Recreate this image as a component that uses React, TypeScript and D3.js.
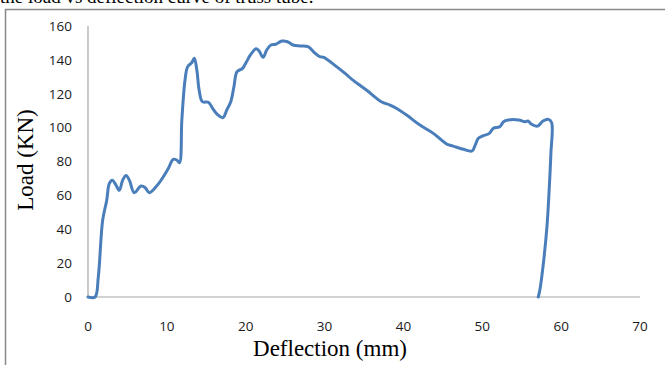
import React from "react";
import * as d3 from "d3";

const deflection = [0, 0.89, 1.31, 1.86, 2.37, 2.7, 3.08, 3.55, 3.97, 4.4, 4.82, 5.24, 5.87, 6.72, 7.23, 7.78, 8.7, 9.55, 10.2, 10.8, 11.25, 11.6, 11.9, 12.3, 12.64, 13.15, 13.48, 13.8, 14.1, 14.5, 15.26, 15.8, 16.4, 17.1, 17.6, 18.1, 18.5, 18.9, 19.6, 20.1, 20.6, 21.3, 21.7, 22.2, 22.66, 23.2, 23.8, 24.6, 25.3, 26.0, 26.9, 27.9, 28.8, 29.4, 29.9, 31.1, 32.6, 33.6, 35.3, 37.2, 38.3, 39.1, 40.4, 42.1, 43.8, 45.5, 46.3, 47.6, 48.7, 49.1, 49.5, 50.0, 50.9, 51.4, 52.2, 52.7, 53.3, 54.6, 55.4, 55.8, 56.2, 57.0, 57.7, 58.4, 58.8, 58.7, 58.5, 58.2, 57.7, 57.3, 57.1];
const load = [0, 0, 12, 45.4, 57, 67, 69, 66, 63, 69, 71.8, 69, 61.6, 65.5, 64.7, 61.6, 65.5, 71, 76, 81.3, 80.9, 79.3, 104.5, 128, 136, 138.3, 140.9, 134, 122, 115.3, 115, 111.4, 107.8, 105.9, 110.4, 115.3, 124, 133, 135, 138.9, 142.9, 146.6, 145.2, 141.5, 145.8, 148.8, 149.2, 151.1, 150.7, 148.8, 148.2, 147.8, 143.9, 141.9, 141.5, 137.5, 132, 128, 122.2, 115.3, 113.3, 111.4, 107.4, 101.5, 96.6, 90.3, 89.1, 87.2, 86.2, 89.7, 93.7, 95, 96.6, 99.6, 100.5, 103.5, 104.5, 104.5, 103.5, 103.9, 102.1, 100.9, 103.9, 104.9, 102.9, 84.8, 65, 41.5, 17.9, 4.1, 0];

const xTicks = [0, 10, 20, 30, 40, 50, 60, 70];
const yTicks = [0, 20, 40, 60, 80, 100, 120, 140, 160];

export default function App() {
  const W = 665, H = 365;
  const x = d3.scaleLinear().domain([0, 70]).range([88, 640]);
  const y = d3.scaleLinear().domain([0, 160]).range([297, 26]);
  const pts: [number, number][] = deflection.map((d, i) => [d, load[i]]);
  const line = d3.line<[number, number]>()
    .x(d => x(d[0]))
    .y(d => y(d[1]))
    .curve(d3.curveCatmullRom.alpha(0.5));
  const tickFont = "'Open Sans', 'Liberation Sans', sans-serif";
  const serif = "'Liberation Serif', 'DejaVu Serif', serif";
  return (
    <svg width={W} height={H} style={{ position: "absolute", left: 0, top: 0, background: "#fff" }}>
      <rect x={0} y={0} width={W} height={H} fill="#fff" />
      <text x={0} y={3} fontFamily={serif} fontSize={19} fill="#000">the load vs deflection curve of truss tube.</text>
      <line x1={5} y1={9.5} x2={W} y2={9.5} stroke="#888" strokeWidth={1.5} />
      <line x1={5.5} y1={9} x2={5.5} y2={H} stroke="#888" strokeWidth={1.5} />
      <line x1={x(0)} y1={y(0)} x2={x(70)} y2={y(0)} stroke="#a6a6a6" strokeWidth={1.2} />
      <line x1={x(0)} y1={y(0)} x2={x(0)} y2={y(160)} stroke="#a6a6a6" strokeWidth={1.2} />
      {yTicks.map(t => (
        <text key={"y" + t} x={72} y={y(t)} dy="0.36em" textAnchor="end" fontFamily={tickFont} fontSize={13.5} fill="#1a1a1a">{t}</text>
      ))}
      {xTicks.map(t => (
        <text key={"x" + t} x={x(t)} y={326} dy="0.36em" textAnchor="middle" fontFamily={tickFont} fontSize={13.5} fill="#1a1a1a">{t}</text>
      ))}
      <text x={330} y={356} textAnchor="middle" fontFamily={serif} fontSize={23} fill="#000">Deflection (mm)</text>
      <text transform="translate(33,160) rotate(-90)" textAnchor="middle" fontFamily={serif} fontSize={23} fill="#000">Load (KN)</text>
      <path d={line(pts) || ""} fill="none" stroke="#4a7ebb" strokeWidth={3} strokeLinejoin="round" strokeLinecap="round" />
    </svg>
  );
}
